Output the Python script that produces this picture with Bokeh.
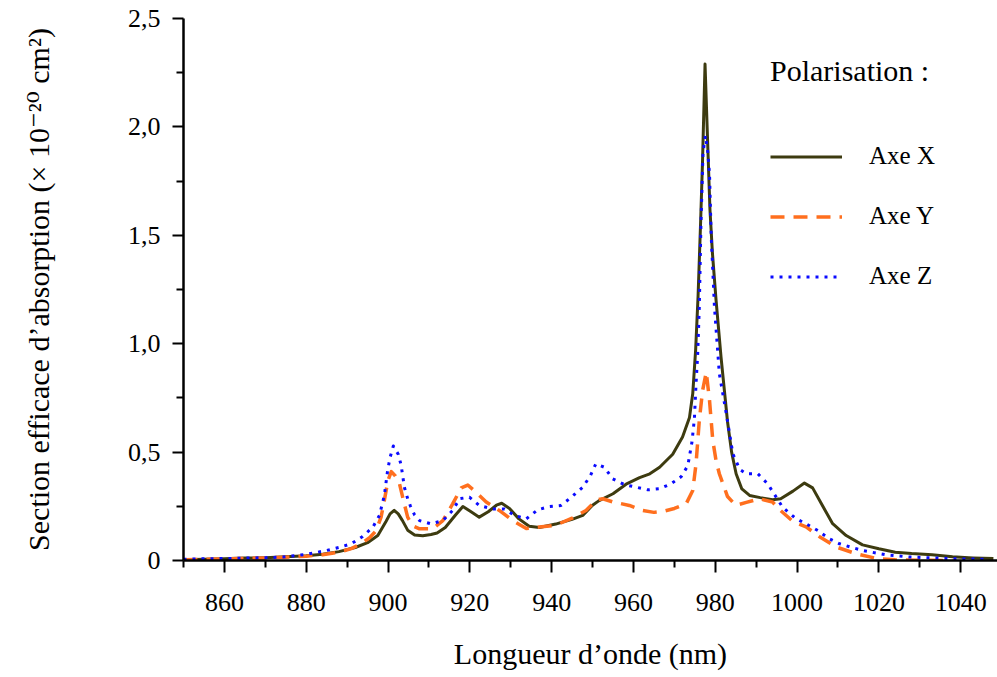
from bokeh.plotting import figure
from bokeh.models import FixedTicker, Legend, LegendItem
from bokeh.embed import file_html
from bokeh.resources import INLINE

# ---- data -------------------------------------------------------------
wl_x = [850, 855, 860, 865, 870, 875, 880, 884, 888, 892, 895, 897.5, 899.5, 900.5,
        901.5, 902.5, 903.5, 904.8, 906.5, 908.5, 910.5, 912, 914, 916.5, 918.3, 920.3,
        922.3, 924.5, 926.5, 927.8, 929.7, 932, 934.5, 937, 941, 945, 947.6, 950, 951.5,
        955, 958.2, 961.5, 964, 966.4, 969.6, 972, 973.7, 974.5, 975.2, 975.8, 976.4,
        976.9, 977.5, 978.1, 978.7, 979.3, 980.2, 981.4, 983, 984, 985.1, 986.5, 988.4,
        991, 994, 996, 999, 1001.8, 1003.8, 1006.3, 1008.7, 1012, 1016, 1020, 1024, 1028,
        1033, 1038, 1043, 1048]
sig_x = [0.004, 0.006, 0.008, 0.011, 0.013, 0.017, 0.022, 0.029, 0.041, 0.060, 0.082,
         0.115, 0.18, 0.215, 0.231, 0.215, 0.185, 0.14, 0.118, 0.114, 0.12, 0.127, 0.152,
         0.21, 0.249, 0.225, 0.2, 0.225, 0.255, 0.264, 0.24, 0.192, 0.158, 0.152, 0.168,
         0.19, 0.208, 0.255, 0.275, 0.308, 0.352, 0.382, 0.4, 0.43, 0.49, 0.57, 0.66, 0.77,
         0.97, 1.22, 1.55, 1.85, 2.29, 1.95, 1.62, 1.42, 1.2, 0.94, 0.64, 0.5, 0.40, 0.33,
         0.3, 0.29, 0.28, 0.285, 0.32, 0.357, 0.335, 0.25, 0.17, 0.115, 0.072, 0.054,
         0.038, 0.032, 0.027, 0.017, 0.012, 0.009]

wl_y = [850, 855, 860, 865, 870, 875, 880, 884, 888, 891, 893.4, 895.5, 897.1, 898.3,
        899.1, 900, 900.8, 901.8, 902.8, 904, 904.8, 906, 907.7, 910.9, 913.4, 915.8,
        917.9, 919.5, 921.5, 924, 927.2, 930.5, 933.8, 937, 941, 945, 948.4, 951, 952.5,
        955, 959, 962, 965, 967.5, 970, 972.9, 974.5, 975.3, 976.1, 976.9, 977.8, 978.6,
        979.4, 980.2, 981, 983, 985, 987.6, 990.8, 994, 996, 999, 1002.2, 1005.5, 1009.6,
        1014.5, 1019.3, 1024, 1030, 1038]
sig_y = [0.003, 0.005, 0.007, 0.01, 0.012, 0.015, 0.02, 0.027, 0.038, 0.055, 0.077,
         0.105, 0.138, 0.2, 0.277, 0.37, 0.41, 0.39, 0.354, 0.26, 0.2, 0.16, 0.146, 0.146,
         0.184, 0.261, 0.335, 0.348, 0.315, 0.27, 0.231, 0.184, 0.148, 0.154, 0.163, 0.195,
         0.231, 0.28, 0.285, 0.27, 0.254, 0.232, 0.222, 0.228, 0.24, 0.262, 0.323, 0.446,
         0.646, 0.784, 0.869, 0.738, 0.553, 0.46, 0.40, 0.295, 0.254, 0.268, 0.285, 0.27,
         0.23, 0.18, 0.155, 0.11, 0.062, 0.031, 0.01, 0.003, 0.001, 0.0]

wl_z = [850, 855, 860, 865, 870, 874.3, 880, 884.9, 888, 891, 893.8, 896.3, 897.9, 899.1,
        899.9, 900.5, 901.3, 902.5, 903.2, 904, 904.8, 905.5, 906.5, 907.7, 910.5, 913.4,
        915.8, 917.5, 919.9, 922.3, 925.6, 928.5, 930.9, 933.8, 936.6, 939.5, 942.3, 944.8,
        947.6, 949.5, 950.8, 952.9, 954.9, 957.8, 960.7, 963.5, 966.4, 969.2, 971.7, 973.3,
        974.3, 974.9, 975.3, 975.7, 976.1, 976.5, 977.0, 977.6, 978.2, 978.6, 979, 979.8,
        981, 982.7, 984.3, 986, 987.6, 990.4, 992.8, 996.5, 999.6, 1002.2, 1005.1, 1007.9,
        1010.4, 1013.2, 1016.1, 1021.8, 1027.5, 1033.2, 1038.9, 1047]
sig_z = [0.006, 0.008, 0.009, 0.011, 0.013, 0.016, 0.028, 0.046, 0.06, 0.077, 0.111,
         0.154, 0.208, 0.3, 0.415, 0.475, 0.528, 0.49, 0.44, 0.338, 0.285, 0.25, 0.21,
         0.184, 0.169, 0.184, 0.231, 0.285, 0.292, 0.254, 0.238, 0.238, 0.208, 0.192,
         0.234, 0.249, 0.254, 0.292, 0.338, 0.392, 0.446, 0.43, 0.377, 0.35, 0.338, 0.326,
         0.331, 0.354, 0.387, 0.438, 0.546, 0.654, 0.815, 0.95, 1.17, 1.55, 1.88, 1.96,
         1.88, 1.78, 1.5, 1.17, 0.861, 0.677, 0.492, 0.42, 0.40, 0.40, 0.354, 0.245, 0.195,
         0.169, 0.138, 0.1, 0.077, 0.061, 0.046, 0.026, 0.016, 0.012, 0.008, 0.005]

x_ticks = [860, 880, 900, 920, 940, 960, 980, 1000, 1020, 1040]
x_minor = [850, 870, 890, 910, 930, 950, 970, 990, 1010, 1030]
y_ticks = [0.0, 0.5, 1.0, 1.5, 2.0, 2.5]
y_tick_labels = ["0", "0,5", "1,0", "1,5", "2,0", "2,5"]
y_minor = [0.25, 0.75, 1.25, 1.75, 2.25]

series_names = ["Axe X", "Axe Y", "Axe Z"]
legend_title = "Polarisation :"
x_title = "Longueur d\u2019onde (nm)"
y_title = "Section efficace d\u2019absorption (\u00d7 10\u207b\u00b2\u2070 cm\u00b2)"

FONT = "Liberation Serif"

p = figure(width=997, height=677, x_range=(850, 1049), y_range=(0, 2.5),
           output_backend="svg", toolbar_location=None,
           min_border_left=183, min_border_top=18, min_border_bottom=117,
           min_border_right=0)
p.outline_line_color = None
p.xgrid.visible = False
p.ygrid.visible = False
p.background_fill_color = "white"

rx = p.line(wl_x, sig_x, line_color="#3d3b10", line_width=3, line_join="round")
ry = p.line(wl_y, sig_y, line_color="#ff6f1e", line_width=3.5, line_dash="14 9",
            line_join="round")
rz = p.line(wl_z, sig_z, line_color="#0a0aff", line_width=3, line_dash="3 6",
            line_join="round")

for ax in (p.xaxis[0], p.yaxis[0]):
    ax.axis_line_color = "black"
    ax.axis_line_width = 2.5
    ax.major_tick_line_color = "black"
    ax.major_tick_line_width = 2
    ax.minor_tick_line_color = "black"
    ax.minor_tick_line_width = 2
    ax.major_tick_in = 0
    ax.minor_tick_in = 0
    ax.major_label_text_font = FONT
    ax.major_label_text_font_size = "26px"
    ax.major_label_text_color = "black"
    ax.axis_label_text_font = FONT
    ax.axis_label_text_font_size = "30px"
    ax.axis_label_text_font_style = "normal"
    ax.axis_label_text_color = "black"

p.xaxis.ticker = FixedTicker(ticks=x_ticks, minor_ticks=x_minor)
p.xaxis.major_tick_out = 12
p.xaxis.minor_tick_out = 7
p.xaxis.major_label_standoff = 21
p.xaxis.axis_label = x_title
p.xaxis.axis_label_standoff = 23

p.yaxis.ticker = FixedTicker(ticks=y_ticks, minor_ticks=y_minor)
p.yaxis.major_label_overrides = {v: s for v, s in zip(y_ticks, y_tick_labels)}
p.yaxis.major_tick_out = 11
p.yaxis.minor_tick_out = 7
p.yaxis.major_label_standoff = 12
p.yaxis.axis_label = y_title
p.yaxis.axis_label_standoff = 70
p.yaxis.axis_label_text_font = "Liberation Serif, DejaVu Serif"

legend = Legend(items=[LegendItem(label=series_names[0], renderers=[rx]),
                       LegendItem(label=series_names[1], renderers=[ry]),
                       LegendItem(label=series_names[2], renderers=[rz])],
                location=(587, 270), title=legend_title)
legend.title_text_font = FONT
legend.title_text_font_size = "30px"
legend.title_text_font_style = "normal"
legend.title_text_color = "black"
legend.title_standoff = 54
legend.label_text_font = FONT
legend.label_text_font_size = "25px"
legend.label_text_color = "black"
legend.glyph_width = 72
legend.glyph_height = 25
legend.label_height = 25
legend.label_standoff = 27
legend.spacing = 32
legend.padding = 0
legend.margin = 0
legend.border_line_color = None
legend.background_fill_alpha = 0
p.add_layout(legend)

open("out.html", "w").write(file_html(p, INLINE))
